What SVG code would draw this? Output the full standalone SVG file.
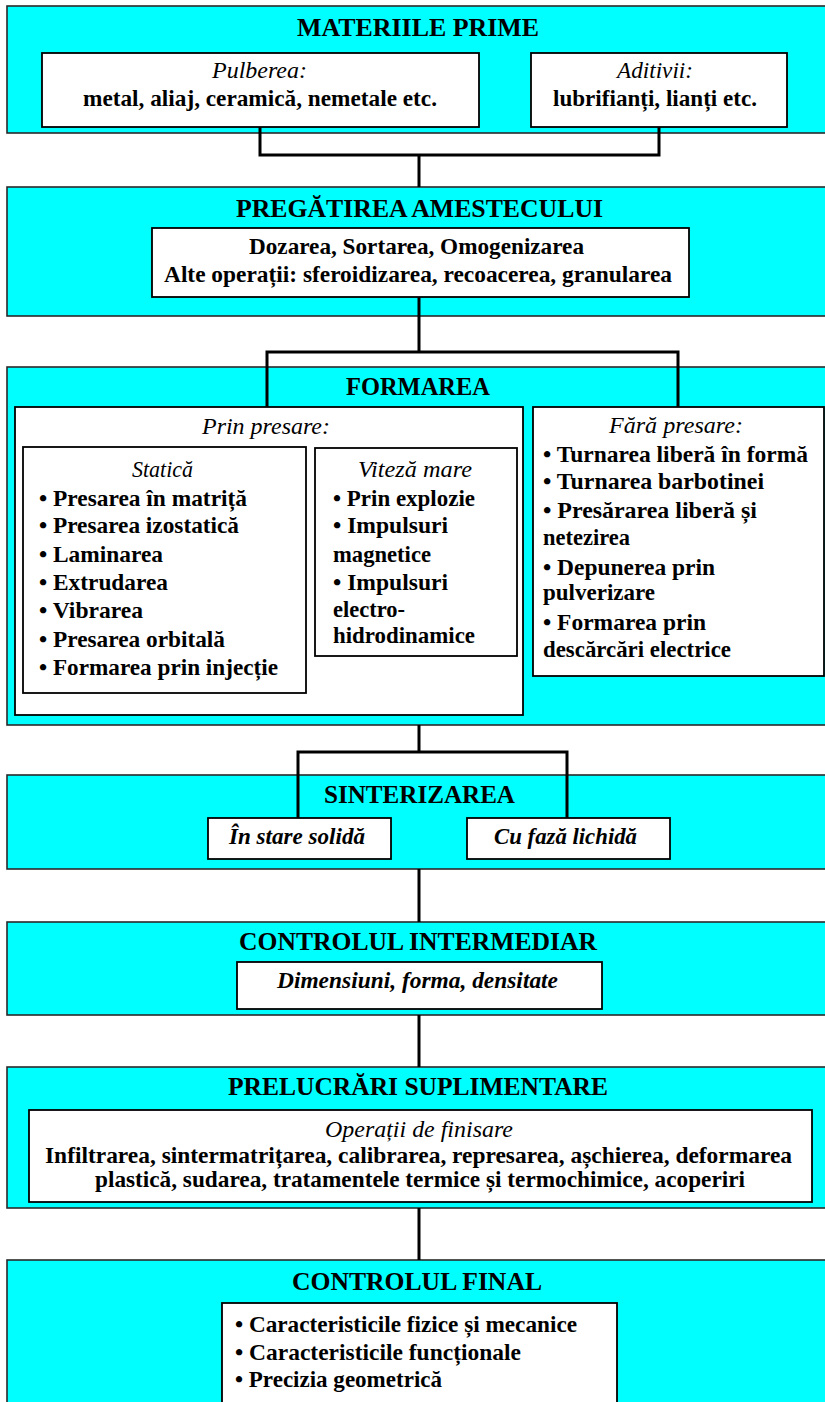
<svg xmlns="http://www.w3.org/2000/svg" width="825" height="1402" viewBox="0 0 825 1402">
<style>
text{font-family:"Liberation Serif","Times New Roman",serif;fill:#000}
.t{font-size:25px;font-weight:bold}
.b{font-size:23px;font-weight:bold}
.i{font-size:23px;font-style:italic}
.bi{font-size:23px;font-style:italic;font-weight:bold}
.outer{fill:#00FFFF;stroke:#2a2a2a;stroke-width:1.6}
.inner{fill:#fff;stroke:#000;stroke-width:1.8}
.conn{fill:none;stroke:#000;stroke-width:3}
</style>
<rect width="825" height="1402" fill="#fff"/>

<g id="materiile-prime">
<rect class="outer" x="7" y="6" width="830" height="127"/>
<text class="t" x="297" y="36" textLength="242" lengthAdjust="spacingAndGlyphs">MATERIILE PRIME</text>
</g>
<g id="pulberea">
<rect class="inner" x="42" y="53" width="437" height="74"/>
<text class="i" x="212" y="78" textLength="95" lengthAdjust="spacingAndGlyphs">Pulberea:</text>
<text class="b" x="83" y="106" textLength="354" lengthAdjust="spacingAndGlyphs">metal, aliaj, ceramică, nemetale etc.</text>
</g>
<g id="aditivii">
<rect class="inner" x="531" y="53" width="256" height="74"/>
<text class="i" x="617" y="78" textLength="76" lengthAdjust="spacingAndGlyphs">Aditivii:</text>
<text class="b" x="553" y="106" textLength="204" lengthAdjust="spacingAndGlyphs">lubrifianți, lianți etc.</text>
</g>

<g id="pregatirea">
<rect class="outer" x="7" y="187" width="830" height="129"/>
<text class="t" x="236" y="217" textLength="367" lengthAdjust="spacingAndGlyphs">PREGĂTIREA AMESTECULUI</text>
<rect class="inner" x="152" y="228" width="537" height="69"/>
<text class="b" x="249" y="254" textLength="335" lengthAdjust="spacingAndGlyphs">Dozarea, Sortarea, Omogenizarea</text>
<text class="b" x="164" y="282" textLength="508" lengthAdjust="spacingAndGlyphs">Alte operații: sferoidizarea, recoacerea, granularea</text>
</g>

<g id="formarea">
<rect class="outer" x="7" y="367" width="830" height="358"/>
<text class="t" x="346" y="395" textLength="144" lengthAdjust="spacingAndGlyphs">FORMAREA</text>
</g>
<g id="prin-presare">
<rect class="inner" x="15" y="407" width="508" height="308"/>
<text class="i" x="202" y="434" textLength="128" lengthAdjust="spacingAndGlyphs">Prin presare:</text>
</g>
<g id="statica">
<rect class="inner" x="23" y="447" width="283" height="246"/>
<text class="i" x="132" y="477" textLength="61" lengthAdjust="spacingAndGlyphs">Statică</text>
<text class="b" x="39" y="506" textLength="208" lengthAdjust="spacingAndGlyphs">• Presarea în matriță</text>
<text class="b" x="39" y="533" textLength="200" lengthAdjust="spacingAndGlyphs">• Presarea izostatică</text>
<text class="b" x="39" y="562" textLength="124" lengthAdjust="spacingAndGlyphs">• Laminarea</text>
<text class="b" x="39" y="590" textLength="129" lengthAdjust="spacingAndGlyphs">• Extrudarea</text>
<text class="b" x="39" y="618" textLength="104" lengthAdjust="spacingAndGlyphs">• Vibrarea</text>
<text class="b" x="39" y="647" textLength="186" lengthAdjust="spacingAndGlyphs">• Presarea orbitală</text>
<text class="b" x="39" y="675" textLength="239" lengthAdjust="spacingAndGlyphs">• Formarea prin injecție</text>
</g>
<g id="viteza-mare">
<rect class="inner" x="315" y="448" width="202" height="208"/>
<text class="i" x="358" y="477" textLength="114" lengthAdjust="spacingAndGlyphs">Viteză mare</text>
<text class="b" x="333" y="506" textLength="142" lengthAdjust="spacingAndGlyphs">• Prin explozie</text>
<text class="b" x="333" y="533" textLength="115" lengthAdjust="spacingAndGlyphs">• Impulsuri</text>
<text class="b" x="333" y="562" textLength="98" lengthAdjust="spacingAndGlyphs">magnetice</text>
<text class="b" x="333" y="590" textLength="115" lengthAdjust="spacingAndGlyphs">• Impulsuri</text>
<text class="b" x="333" y="617" textLength="72" lengthAdjust="spacingAndGlyphs">electro-</text>
<text class="b" x="333" y="643" textLength="142" lengthAdjust="spacingAndGlyphs">hidrodinamice</text>
</g>
<g id="fara-presare">
<rect class="inner" x="533" y="407" width="291" height="269"/>
<text class="i" x="609" y="433" textLength="134" lengthAdjust="spacingAndGlyphs">Fără presare:</text>
<text class="b" x="543" y="462" textLength="265" lengthAdjust="spacingAndGlyphs">• Turnarea liberă în formă</text>
<text class="b" x="543" y="489" textLength="221" lengthAdjust="spacingAndGlyphs">• Turnarea barbotinei</text>
<text class="b" x="543" y="518" textLength="214" lengthAdjust="spacingAndGlyphs">• Presărarea liberă și</text>
<text class="b" x="543" y="545" textLength="87" lengthAdjust="spacingAndGlyphs">netezirea</text>
<text class="b" x="543" y="575" textLength="172" lengthAdjust="spacingAndGlyphs">• Depunerea prin</text>
<text class="b" x="543" y="600" textLength="112" lengthAdjust="spacingAndGlyphs">pulverizare</text>
<text class="b" x="543" y="630" textLength="163" lengthAdjust="spacingAndGlyphs">• Formarea prin</text>
<text class="b" x="543" y="657" textLength="188" lengthAdjust="spacingAndGlyphs">descărcări electrice</text>
</g>

<g id="sinterizarea">
<rect class="outer" x="7" y="775" width="830" height="94"/>
<text class="t" x="324" y="803" textLength="191" lengthAdjust="spacingAndGlyphs">SINTERIZAREA</text>
</g>
<g id="stare-solida">
<rect class="inner" x="208" y="818" width="183" height="41"/>
<text class="bi" x="229" y="844" textLength="136" lengthAdjust="spacingAndGlyphs">În stare solidă</text>
</g>
<g id="faza-lichida">
<rect class="inner" x="467" y="818" width="203" height="41"/>
<text class="bi" x="494" y="844" textLength="143" lengthAdjust="spacingAndGlyphs">Cu fază lichidă</text>
</g>

<g id="controlul-intermediar">
<rect class="outer" x="7" y="922" width="830" height="93"/>
<text class="t" x="239" y="950" textLength="358" lengthAdjust="spacingAndGlyphs">CONTROLUL INTERMEDIAR</text>
<rect class="inner" x="237" y="962" width="365" height="47"/>
<text class="bi" x="277" y="988" textLength="281" lengthAdjust="spacingAndGlyphs">Dimensiuni, forma, densitate</text>
</g>

<g id="prelucrari">
<rect class="outer" x="7" y="1067" width="830" height="141"/>
<text class="t" x="228" y="1095" textLength="380" lengthAdjust="spacingAndGlyphs">PRELUCRĂRI SUPLIMENTARE</text>
<rect class="inner" x="29" y="1110" width="783" height="92"/>
<text class="i" x="325" y="1137" textLength="188" lengthAdjust="spacingAndGlyphs">Operații de finisare</text>
<text class="b" x="45" y="1163" textLength="747" lengthAdjust="spacingAndGlyphs">Infiltrarea, sintermatrițarea, calibrarea, represarea, așchierea, deformarea</text>
<text class="b" x="95" y="1187" textLength="650" lengthAdjust="spacingAndGlyphs">plastică, sudarea, tratamentele termice și termochimice, acoperiri</text>
</g>

<g id="controlul-final">
<rect class="outer" x="7" y="1260" width="830" height="160"/>
<text class="t" x="292" y="1290" textLength="250" lengthAdjust="spacingAndGlyphs">CONTROLUL FINAL</text>
<rect class="inner" x="222" y="1303" width="395" height="120"/>
<text class="b" x="235" y="1332" textLength="342" lengthAdjust="spacingAndGlyphs">• Caracteristicile fizice și mecanice</text>
<text class="b" x="235" y="1360" textLength="286" lengthAdjust="spacingAndGlyphs">• Caracteristicile funcționale</text>
<text class="b" x="235" y="1387" textLength="207" lengthAdjust="spacingAndGlyphs">• Precizia geometrică</text>
</g>

<g id="connectors">
<path class="conn" d="M260,127 V155 H659 V127"/>
<path class="conn" d="M419,155 V187"/>
<path class="conn" d="M419,297 V352"/>
<path class="conn" d="M267,407 V352 H678 V407"/>
<path class="conn" d="M419,725 V752"/>
<path class="conn" d="M298,818 V752 H567 V818"/>
<path class="conn" d="M419,869 V922"/>
<path class="conn" d="M419,1015 V1067"/>
<path class="conn" d="M419,1208 V1260"/>
</g>
</svg>
